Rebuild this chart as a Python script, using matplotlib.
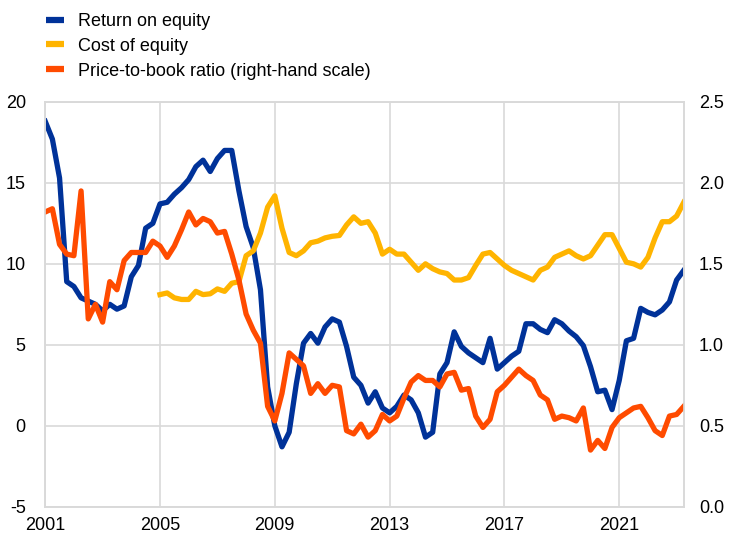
import matplotlib

matplotlib.use("Agg")
import matplotlib.pyplot as plt
import numpy as np
from matplotlib.lines import Line2D

# quarterly data, 2001 Q1 to 2023 Q2
start_year = 2001
roe = [
    18.8, 17.7, 15.3, 8.9, 8.6, 7.9, 7.7, 7.5, 7.1, 7.5,
    7.2, 7.4, 9.2, 9.9, 12.2, 12.5, 13.7, 13.8, 14.3, 14.7,
    15.2, 16.0, 16.4, 15.7, 16.5, 17.0, 17.0, 14.5, 12.3, 11.0,
    8.4, 2.4, 0.0, -1.3, -0.4, 2.6, 5.1, 5.7, 5.1, 6.1,
    6.6, 6.4, 4.9, 3.0, 2.5, 1.4, 2.1, 1.1, 0.8, 1.2,
    1.9, 1.6, 0.8, -0.7, -0.4, 3.2, 3.9, 5.8, 4.9, 4.5,
    4.2, 3.9, 5.4, 3.5, 3.9, 4.3, 4.6, 6.3, 6.3, 5.95,
    5.75, 6.55, 6.3, 5.85, 5.5, 4.95, 3.65, 2.1, 2.2, 1.0,
    2.8, 5.25, 5.4, 7.25, 7.0, 6.85, 7.15, 7.65, 9.0, 9.6,
]
# cost of equity starts in 2005 Q1
coe_start = 2005
coe = [
    8.1, 8.2, 7.9, 7.8, 7.8, 8.3, 8.1, 8.15, 8.45, 8.3,
    8.8, 8.9, 10.5, 10.8, 11.9, 13.5, 14.2, 12.2, 10.7, 10.5,
    10.8, 11.3, 11.4, 11.6, 11.7, 11.75, 12.4, 12.9, 12.5, 12.6,
    11.9, 10.6, 10.9, 10.6, 10.6, 10.1, 9.6, 10.0, 9.7, 9.5,
    9.4, 9.0, 9.0, 9.15, 9.9, 10.6, 10.7, 10.3, 9.9, 9.6,
    9.4, 9.2, 9.0, 9.6, 9.8, 10.4, 10.6, 10.8, 10.5, 10.3,
    10.5, 11.15, 11.8, 11.8, 10.95, 10.1, 10.0, 9.8, 10.4, 11.6,
    12.6, 12.6, 12.95, 13.8,
]
pb_ratio = [
    1.82, 1.84, 1.62, 1.56, 1.55, 1.95, 1.16, 1.25, 1.14, 1.39,
    1.34, 1.52, 1.57, 1.57, 1.57, 1.64, 1.61, 1.54, 1.61, 1.71,
    1.82, 1.74, 1.78, 1.76, 1.69, 1.70, 1.56, 1.40, 1.19, 1.09,
    1.01, 0.62, 0.53, 0.70, 0.95, 0.91, 0.87, 0.70, 0.76, 0.70,
    0.75, 0.74, 0.47, 0.45, 0.51, 0.43, 0.47, 0.57, 0.53, 0.56,
    0.67, 0.77, 0.81, 0.78, 0.78, 0.74, 0.82, 0.83, 0.72, 0.73,
    0.56, 0.49, 0.54, 0.71, 0.75, 0.80, 0.85, 0.81, 0.78, 0.69,
    0.66, 0.54, 0.56, 0.55, 0.53, 0.61, 0.35, 0.41, 0.36, 0.49,
    0.55, 0.58, 0.61, 0.62, 0.55, 0.47, 0.44, 0.56, 0.57, 0.62,
]
x_ticks = [2001, 2005, 2009, 2013, 2017, 2021]
left_ticks = [-5, 0, 5, 10, 15, 20]
right_ticks = [0.0, 0.5, 1.0, 1.5, 2.0, 2.5]
labels = ["Return on equity", "Cost of equity", "Price-to-book ratio (right-hand scale)"]

BLUE = "#003299"
YELLOW = "#FFB400"
ORANGE = "#FF4B00"
GRID = "#d9d9d9"

plt.rcParams["font.family"] = ["Liberation Sans", "DejaVu Sans"]
plt.rcParams["font.size"] = 13
plt.rcParams["axes.unicode_minus"] = False

x_roe = start_year + np.arange(len(roe)) / 4
x_coe = coe_start + np.arange(len(coe)) / 4
x_pb = start_year + np.arange(len(pb_ratio)) / 4

fig = plt.figure(figsize=(7.29, 5.36), dpi=100)
ax = fig.add_axes([0.062, 0.0545, 0.876, 0.7555])
ax2 = ax.twinx()

ax.plot(x_roe, roe, color=BLUE, lw=3.8, solid_joinstyle="round")
ax.plot(x_coe, coe, color=YELLOW, lw=3.8, solid_joinstyle="round")
ax2.plot(x_pb, pb_ratio, color=ORANGE, lw=3.8, solid_joinstyle="round")

ax.set_xlim(2001, 2023.25)
ax.set_ylim(-5, 20)
ax2.set_ylim(0, 2.5)
ax.set_xticks(x_ticks)
ax.set_yticks(left_ticks)
ax2.set_yticks(right_ticks)
ax2.set_yticklabels([f"{v:.1f}" for v in right_ticks])

ax.grid(True, color=GRID, lw=1.2)
ax.set_axisbelow(True)
ax.tick_params(axis="both", length=0, labelsize=13, colors="black")
ax.tick_params(axis="y", pad=14)
ax.tick_params(axis="x", pad=7)
ax2.tick_params(axis="y", length=0, labelsize=13, pad=11)
for a in (ax, ax2):
    for sp in a.spines.values():
        sp.set_color(GRID)
        sp.set_linewidth(1.2)

handles = [Line2D([], [], color=c, lw=4.5, solid_capstyle="butt") for c in (BLUE, YELLOW, ORANGE)]
fig.legend(
    handles=handles,
    labels=labels,
    loc="upper left",
    bbox_to_anchor=(0.063, 0.976),
    frameon=False,
    fontsize=13,
    handlelength=1.0,
    handletextpad=0.78,
    labelspacing=0.44,
    borderaxespad=0.0,
    borderpad=0.0,
)

fig.savefig("out.png", dpi=100)
